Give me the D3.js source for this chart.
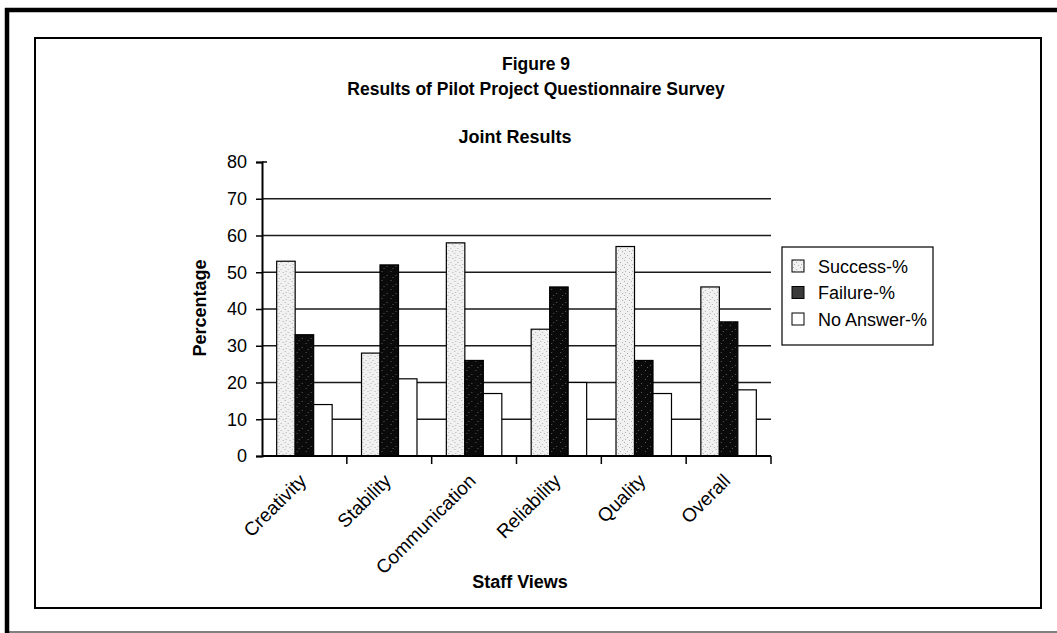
<!DOCTYPE html>
<html>
<head>
<meta charset="utf-8">
<script src="https://cdn.jsdelivr.net/npm/d3@7"></script>
<style>
  html, body { margin: 0; padding: 0; background: #fff; }
  svg { display: block; font-family: "Liberation Sans", Arial, Helvetica, sans-serif; }
</style>
</head>
<body>
<svg id="chart" width="1057" height="633"></svg>
<script>
// Survey results per staff-view category (percent of respondents)
const categories = ["Creativity", "Stability", "Communication", "Reliability", "Quality", "Overall"];
const seriesNames = ["Success-%", "Failure-%", "No Answer-%"];
const successPct  = [53, 28, 58, 34.5, 57, 46];
const failurePct  = [33, 52, 26, 46, 26, 36.5];
const noAnswerPct = [14, 21, 17, 20, 17, 18];
const yTicks = [0, 10, 20, 30, 40, 50, 60, 70, 80];

const seriesValues = [successPct, failurePct, noAnswerPct];
const rows = categories.map((c, i) => ({
  category: c,
  values: seriesNames.map((s, k) => ({ series: s, value: seriesValues[k][i] }))
}));

const svg = d3.select("#chart");
const defs = svg.append("defs");

// Speckled fills for the light and dark bars
const light = defs.append("pattern").attr("id", "lightDots")
  .attr("patternUnits", "userSpaceOnUse").attr("width", 7).attr("height", 7);
light.append("rect").attr("width", 7).attr("height", 7).attr("fill", "#f1f1f1");
[[1, 1], [4, 3], [2, 5], [6, 6]].forEach(([px, py]) =>
  light.append("rect").attr("x", px).attr("y", py).attr("width", 1).attr("height", 1).attr("fill", "#b0b0b0"));

const dark = defs.append("pattern").attr("id", "darkDots")
  .attr("patternUnits", "userSpaceOnUse").attr("width", 9).attr("height", 9);
dark.append("rect").attr("width", 9).attr("height", 9).attr("fill", "#0a0a0a");
[[2, 1], [7, 5], [4, 7]].forEach(([px, py]) =>
  dark.append("rect").attr("x", px).attr("y", py).attr("width", 1).attr("height", 1).attr("fill", "#5a5a5a"));

const fills = { "Success-%": "url(#lightDots)", "Failure-%": "url(#darkDots)", "No Answer-%": "#ffffff" };

// Page frames
svg.append("line").attr("x1", 7).attr("x2", 7).attr("y1", 8).attr("y2", 633)
  .attr("stroke", "#000").attr("stroke-width", 4.5);
svg.append("line").attr("x1", 5).attr("x2", 1057).attr("y1", 10).attr("y2", 10)
  .attr("stroke", "#000").attr("stroke-width", 4.5);
svg.append("line").attr("x1", 5).attr("x2", 1057).attr("y1", 632).attr("y2", 632)
  .attr("stroke", "#000").attr("stroke-width", 1.2);
svg.append("rect").attr("x", 35).attr("y", 38).attr("width", 1006).attr("height", 570)
  .attr("fill", "none").attr("stroke", "#000").attr("stroke-width", 2);

// Titles
svg.append("text").attr("x", 536).attr("y", 70).attr("text-anchor", "middle")
  .attr("font-weight", "bold").attr("font-size", 17.5).text("Figure 9");
svg.append("text").attr("x", 536).attr("y", 95).attr("text-anchor", "middle")
  .attr("font-weight", "bold").attr("font-size", 17.5).text("Results of Pilot Project Questionnaire Survey");
svg.append("text").attr("x", 515).attr("y", 143).attr("text-anchor", "middle")
  .attr("font-weight", "bold").attr("font-size", 18).text("Joint Results");

// Scales
const plotLeft = 262, plotRight = 771, plotTop = 162, plotBottom = 456;
const x = d3.scaleBand().domain(categories).range([plotLeft, plotRight]).paddingInner(0.346).paddingOuter(0.173);
const xs = d3.scaleBand().domain(seriesNames).range([0, x.bandwidth()]);
const y = d3.scaleLinear().domain([0, 80]).range([plotBottom, plotTop]);

// Horizontal gridlines
svg.append("g").selectAll("line").data(yTicks.filter(t => t > 0 && t < 80)).join("line")
  .attr("x1", plotLeft).attr("x2", plotRight)
  .attr("y1", d => y(d)).attr("y2", d => y(d))
  .attr("stroke", "#1a1a1a").attr("stroke-width", 1.5);

// Bars
const groups = svg.append("g").selectAll("g").data(rows).join("g")
  .attr("transform", d => `translate(${x(d.category)},0)`);
groups.selectAll("rect").data(d => d.values).join("rect")
  .attr("x", d => xs(d.series))
  .attr("y", d => y(d.value))
  .attr("width", xs.bandwidth())
  .attr("height", d => y(0) - y(d.value))
  .attr("fill", d => fills[d.series])
  .attr("stroke", "#000").attr("stroke-width", 1.2);

// Y axis
const yAxis = svg.append("g").attr("transform", `translate(${plotLeft},0)`)
  .call(d3.axisLeft(y).tickValues(yTicks).tickSize(6).tickPadding(9));
yAxis.select(".domain").attr("stroke-width", 2);
yAxis.selectAll(".tick line").attr("stroke-width", 1.5);
yAxis.selectAll(".tick text").attr("font-size", 18).attr("fill", "#000")
  .attr("font-family", "'Liberation Sans', Arial, sans-serif");
// small cross tick at the top of the axis
yAxis.append("line").attr("x1", 0).attr("x2", 5).attr("y1", y(80)).attr("y2", y(80))
  .attr("stroke", "#000").attr("stroke-width", 1.5);

// X axis with boundary ticks between categories
const xAxisG = svg.append("g").attr("transform", `translate(0,${plotBottom})`);
xAxisG.append("line").attr("x1", plotLeft).attr("x2", plotRight).attr("y1", 0).attr("y2", 0)
  .attr("stroke", "#000").attr("stroke-width", 2);
const step = x.step();
xAxisG.selectAll("line.bound").data(categories).join("line").attr("class", "bound")
  .attr("x1", d => x(d) - x.paddingOuter() * step + step)
  .attr("x2", d => x(d) - x.paddingOuter() * step + step)
  .attr("y1", 0).attr("y2", 8)
  .attr("stroke", "#000").attr("stroke-width", 1.5);
xAxisG.selectAll("text").data(categories).join("text")
  .attr("text-anchor", "end")
  .attr("font-size", 19)
  .attr("transform", d => `translate(${x(d) + x.bandwidth() / 2 + 3},${26}) rotate(-45)`)
  .text(d => d);

// Axis titles
svg.append("text").attr("text-anchor", "middle").attr("font-weight", "bold").attr("font-size", 18)
  .attr("transform", `translate(206,308) rotate(-90)`).text("Percentage");
svg.append("text").attr("x", 520).attr("y", 588).attr("text-anchor", "middle")
  .attr("font-weight", "bold").attr("font-size", 18).text("Staff Views");

// Legend
const lg = svg.append("g").attr("transform", "translate(782,247)");
lg.append("rect").attr("width", 151).attr("height", 98)
  .attr("fill", "#fff").attr("stroke", "#000").attr("stroke-width", 1.2);
const legendFills = { "Success-%": "url(#lightDots)", "Failure-%": "#3a3a3a", "No Answer-%": "#ffffff" };
const item = lg.selectAll("g").data(seriesNames).join("g")
  .attr("transform", (d, i) => `translate(10,${19 + i * 26.5})`);
item.append("rect").attr("x", 0).attr("y", -6).attr("width", 12).attr("height", 12)
  .attr("fill", d => legendFills[d]).attr("stroke", "#000").attr("stroke-width", 1);
item.append("text").attr("x", 26).attr("y", 6.5).attr("font-size", 18).text(d => d);
</script>
</body>
</html>
